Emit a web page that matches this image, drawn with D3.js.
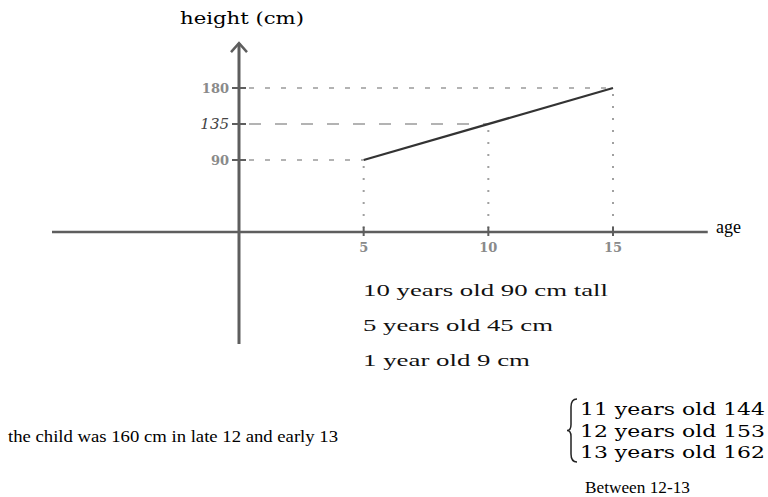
<!DOCTYPE html>
<html>
<head>
<meta charset="utf-8">
<script src="https://cdn.jsdelivr.net/npm/d3@7"></script>
<style>
  body { margin: 0; background: #fff; }
  svg { display: block; }
</style>
</head>
<body>
<script>
// values
const ages = [5, 10, 15]
const heights = [90, 135, 180]
const xTickLabels = ['5', '10', '15']
const yTickLabels = ['90', '135', '180']
const xAxisExtent = [-7.5, 18.8]
const yAxisExtent = [-140, 236]
const notes = ['10 years old 90 cm tall', '5 years old 45 cm', '1 year old 9 cm']
const conclusion = 'the child was 160 cm in late 12 and early 13'
const braceNotes = ['11 years old 144', '12 years old 153', '13 years old 162']
const answer = 'Between 12-13'

;(function () {
  const width = 768
  const height = 497
  const serif = 'DejaVu Serif, serif'
  const times = 'Liberation Serif, serif'
  const svg = d3.select('body').append('svg')
    .attr('width', width).attr('height', height)

  const x = d3.scaleLinear().domain([0, 15]).range([239, 613])
  const y = d3.scaleLinear().domain([0, 180]).range([232, 88])

  const points = ages.map((a, i) => ({ age: a, h: heights[i] }))

  // guide lines
  const guides = svg.append('g')
  guides.selectAll('line.h')
    .data(points)
    .enter()
    .append('line')
    .attr('x1', x(0) + 10).attr('x2', (d) => x(d.age))
    .attr('y1', (d) => y(d.h)).attr('y2', (d) => y(d.h))
    .attr('stroke', '#9a9a9a')
    .attr('stroke-width', 1.5)
    .attr('stroke-dasharray', (d) => (d.h === 135 ? '12,14' : '5,11'))
  guides.selectAll('line.v')
    .data(points)
    .enter()
    .append('line')
    .attr('x1', (d) => x(d.age)).attr('x2', (d) => x(d.age))
    .attr('y1', (d) => y(d.h) + 6).attr('y2', y(0))
    .attr('stroke', '#a0a0a0')
    .attr('stroke-width', 2)
    .attr('stroke-dasharray', '2,10')

  // axes
  const axisColor = '#5e5e5e'
  svg.append('line')
    .attr('x1', x(xAxisExtent[0])).attr('x2', x(xAxisExtent[1]))
    .attr('y1', y(0)).attr('y2', y(0))
    .attr('stroke', axisColor).attr('stroke-width', 2.5)
  svg.append('line')
    .attr('x1', x(0)).attr('x2', x(0))
    .attr('y1', y(yAxisExtent[0])).attr('y2', y(yAxisExtent[1]))
    .attr('stroke', axisColor).attr('stroke-width', 3)
  // arrow head on the height axis
  const tip = [x(0), y(yAxisExtent[1])]
  svg.append('path')
    .attr('d', `M${tip[0] - 8},${tip[1] + 9} L${tip[0]},${tip[1]} L${tip[0] + 8},${tip[1] + 9}`)
    .attr('fill', 'none').attr('stroke', axisColor).attr('stroke-width', 2.5)

  // tick marks
  svg.append('g').selectAll('line')
    .data(heights)
    .enter()
    .append('line')
    .attr('x1', x(0) - 7).attr('x2', x(0) + 7)
    .attr('y1', (d) => y(d)).attr('y2', (d) => y(d))
    .attr('stroke', axisColor).attr('stroke-width', 2)
  svg.append('g').selectAll('line')
    .data(ages)
    .enter()
    .append('line')
    .attr('x1', (d) => x(d)).attr('x2', (d) => x(d))
    .attr('y1', y(0) - 5).attr('y2', y(0) + 4)
    .attr('stroke', axisColor).attr('stroke-width', 2)

  // tick labels
  svg.append('g').selectAll('text')
    .data(ages)
    .enter()
    .append('text')
    .attr('x', (d) => x(d)).attr('y', y(0) + 20)
    .attr('text-anchor', 'middle')
    .attr('font-family', serif).attr('font-size', 13).attr('font-weight', 'bold')
    .attr('fill', '#8a8a8a')
    .text((d, i) => xTickLabels[i])
  svg.append('g').selectAll('text')
    .data(heights)
    .enter()
    .append('text')
    .attr('x', x(0) - 10).attr('y', (d) => y(d) + 5)
    .attr('text-anchor', 'end')
    .attr('font-family', serif)
    .attr('font-size', (d) => (d === 135 ? 15 : 13))
    .attr('font-weight', (d) => (d === 135 ? 'normal' : 'bold'))
    .attr('font-style', (d) => (d === 135 ? 'italic' : 'normal'))
    .attr('fill', (d) => (d === 135 ? '#444' : '#8a8a8a'))
    .text((d, i) => yTickLabels[i])

  // the growth line
  const line = d3.line().x((d) => x(d.age)).y((d) => y(d.h))
  svg.append('path')
    .datum([points[0], points[2]])
    .attr('d', line)
    .attr('fill', 'none').attr('stroke', '#333').attr('stroke-width', 2.2)

  // axis titles
  svg.append('text')
    .attr('x', 180).attr('y', 24)
    .attr('font-family', serif).attr('font-size', 16)
    .attr('textLength', 124).attr('lengthAdjust', 'spacingAndGlyphs')
    .text('height (cm)')
  svg.append('text')
    .attr('x', 716).attr('y', 233)
    .attr('font-family', times).attr('font-size', 18)
    .text('age')

  // working notes
  svg.append('g').selectAll('text')
    .data(notes)
    .enter()
    .append('text')
    .attr('x', 363).attr('y', (d, i) => 296 + i * 35)
    .attr('font-family', times).attr('font-size', 17)
    .attr('fill', '#111')
    .attr('textLength', (d, i) => [245, 190, 167][i]).attr('lengthAdjust', 'spacingAndGlyphs')
    .text((d) => d)

  svg.append('text')
    .attr('x', 8).attr('y', 442)
    .attr('font-family', times).attr('font-size', 16)
    .attr('textLength', 330).attr('lengthAdjust', 'spacingAndGlyphs')
    .text(conclusion)

  // curly brace grouping the three guesses
  const bx = 577
  const by0 = 399
  const by1 = 462
  const bm = (by0 + by1) / 2
  svg.append('path')
    .attr('d', `M${bx},${by0} Q${bx - 6},${by0} ${bx - 6},${by0 + 8} L${bx - 6},${bm - 6} Q${bx - 6},${bm} ${bx - 10},${bm}` +
      ` Q${bx - 6},${bm} ${bx - 6},${bm + 6} L${bx - 6},${by1 - 8} Q${bx - 6},${by1} ${bx},${by1}`)
    .attr('fill', 'none').attr('stroke', '#222').attr('stroke-width', 1.5)
  svg.append('g').selectAll('text')
    .data(braceNotes)
    .enter()
    .append('text')
    .attr('x', 580).attr('y', (d, i) => 415 + i * 21.5)
    .attr('font-family', serif).attr('font-size', 16)
    .attr('textLength', 185).attr('lengthAdjust', 'spacingAndGlyphs')
    .text((d) => d)
  svg.append('text')
    .attr('x', 585).attr('y', 493)
    .attr('font-family', times).attr('font-size', 17)
    .attr('textLength', 105).attr('lengthAdjust', 'spacingAndGlyphs')
    .text(answer)
})()
</script>
</body>
</html>
